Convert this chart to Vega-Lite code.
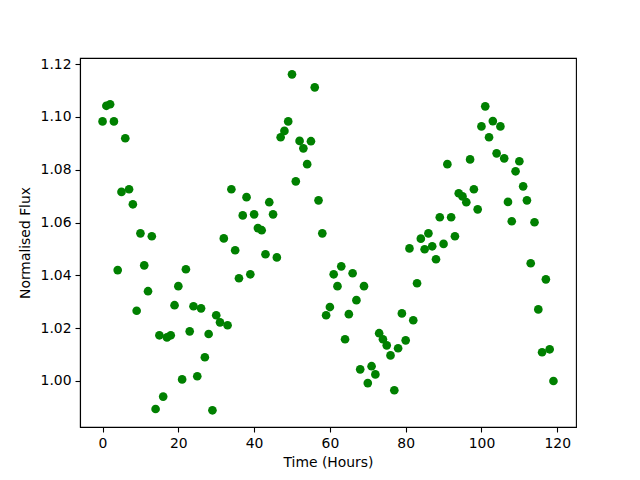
{
  "$schema": "https://vega.github.io/schema/vega-lite/v6.json",
  "width": 496,
  "height": 369,
  "autosize": {"type": "none"},
  "padding": {"left": 80, "top": 58, "right": 64, "bottom": 53},
  "background": "white",
  "config": {
    "view": {"stroke": "black", "strokeWidth": 1.1},
    "font": "DejaVu Sans",
    "axis": {
      "domainColor": "black",
      "domainWidth": 1.1,
      "tickColor": "black",
      "tickWidth": 1.1,
      "tickSize": 5,
      "labelPadding": 4,
      "labelFont": "DejaVu Sans",
      "labelFontSize": 13.9,
      "labelColor": "black",
      "titleFont": "DejaVu Sans",
      "titleFontSize": 13.9,
      "titleFontWeight": "normal",
      "titleColor": "black",
      "grid": false
    }
  },
  "data": {
    "values": [
      {"t": 0, "f": 1.0983}, {"t": 1, "f": 1.1042}, {"t": 2, "f": 1.1048}, {"t": 3, "f": 1.0983},
      {"t": 4, "f": 1.0420}, {"t": 5, "f": 1.0716}, {"t": 6, "f": 1.0919}, {"t": 7, "f": 1.0726},
      {"t": 8, "f": 1.0669}, {"t": 9, "f": 1.0266}, {"t": 10, "f": 1.0559}, {"t": 11, "f": 1.0438},
      {"t": 12, "f": 1.0340}, {"t": 13, "f": 1.0548}, {"t": 14, "f": 0.9894}, {"t": 15, "f": 1.0173},
      {"t": 16, "f": 0.9941}, {"t": 17, "f": 1.0165}, {"t": 18, "f": 1.0173}, {"t": 19, "f": 1.0287},
      {"t": 20, "f": 1.0359}, {"t": 21, "f": 1.0006}, {"t": 22, "f": 1.0423}, {"t": 23, "f": 1.0188},
      {"t": 24, "f": 1.0283}, {"t": 25, "f": 1.0018}, {"t": 26, "f": 1.0275}, {"t": 27, "f": 1.0090},
      {"t": 28, "f": 1.0178}, {"t": 29, "f": 0.9889}, {"t": 30, "f": 1.0249}, {"t": 31, "f": 1.0222},
      {"t": 32, "f": 1.0540}, {"t": 33, "f": 1.0211}, {"t": 34, "f": 1.0726}, {"t": 35, "f": 1.0495},
      {"t": 36, "f": 1.0389}, {"t": 37, "f": 1.0627}, {"t": 38, "f": 1.0696}, {"t": 39, "f": 1.0404},
      {"t": 40, "f": 1.0631}, {"t": 41, "f": 1.0579}, {"t": 42, "f": 1.0571}, {"t": 43, "f": 1.0480},
      {"t": 44, "f": 1.0677}, {"t": 45, "f": 1.0631}, {"t": 46, "f": 1.0468}, {"t": 47, "f": 1.0923},
      {"t": 48, "f": 1.0947}, {"t": 49, "f": 1.0983}, {"t": 50, "f": 1.1161}, {"t": 51, "f": 1.0756},
      {"t": 52, "f": 1.0909}, {"t": 53, "f": 1.0881}, {"t": 54, "f": 1.0821}, {"t": 55, "f": 1.0908},
      {"t": 56, "f": 1.1112}, {"t": 57, "f": 1.0684}, {"t": 58, "f": 1.0559}, {"t": 59, "f": 1.0249},
      {"t": 60, "f": 1.0280}, {"t": 61, "f": 1.0404}, {"t": 62, "f": 1.0359}, {"t": 63, "f": 1.0434},
      {"t": 64, "f": 1.0158}, {"t": 65, "f": 1.0253}, {"t": 66, "f": 1.0408}, {"t": 67, "f": 1.0306},
      {"t": 68, "f": 1.0044}, {"t": 69, "f": 1.0359}, {"t": 70, "f": 0.9992}, {"t": 71, "f": 1.0056},
      {"t": 72, "f": 1.0025}, {"t": 73, "f": 1.0181}, {"t": 74, "f": 1.0158}, {"t": 75, "f": 1.0135},
      {"t": 76, "f": 1.0097}, {"t": 77, "f": 0.9965}, {"t": 78, "f": 1.0124}, {"t": 79, "f": 1.0256},
      {"t": 80, "f": 1.0154}, {"t": 81, "f": 1.0502}, {"t": 82, "f": 1.0230}, {"t": 83, "f": 1.0370},
      {"t": 84, "f": 1.0539}, {"t": 85, "f": 1.0499}, {"t": 86, "f": 1.0559}, {"t": 87, "f": 1.0510},
      {"t": 88, "f": 1.0461}, {"t": 89, "f": 1.0620}, {"t": 90, "f": 1.0519}, {"t": 91, "f": 1.0821},
      {"t": 92, "f": 1.0620}, {"t": 93, "f": 1.0548}, {"t": 94, "f": 1.0711}, {"t": 95, "f": 1.0699},
      {"t": 96, "f": 1.0677}, {"t": 97, "f": 1.0839}, {"t": 98, "f": 1.0726}, {"t": 99, "f": 1.0650},
      {"t": 100, "f": 1.0964}, {"t": 101, "f": 1.1040}, {"t": 102, "f": 1.0923}, {"t": 103, "f": 1.0984},
      {"t": 104, "f": 1.0862}, {"t": 105, "f": 1.0964}, {"t": 106, "f": 1.0843}, {"t": 107, "f": 1.0678},
      {"t": 108, "f": 1.0605}, {"t": 109, "f": 1.0794}, {"t": 110, "f": 1.0832}, {"t": 111, "f": 1.0737},
      {"t": 112, "f": 1.0684}, {"t": 113, "f": 1.0446}, {"t": 114, "f": 1.0601}, {"t": 115, "f": 1.0271},
      {"t": 116, "f": 1.0109}, {"t": 117, "f": 1.0385}, {"t": 118, "f": 1.0120}, {"t": 119, "f": 1.0000}
    ]
  },
  "mark": {"type": "circle", "color": "#008000", "opacity": 1, "size": 75},
  "encoding": {
    "x": {
      "field": "t",
      "type": "quantitative",
      "title": "Time (Hours)",
      "scale": {"domain": [-5.95, 124.95], "nice": false, "zero": false},
      "axis": {"values": [0, 20, 40, 60, 80, 100, 120], "format": "d", "titlePadding": 6}
    },
    "y": {
      "field": "f",
      "type": "quantitative",
      "title": "Normalised Flux",
      "scale": {"domain": [0.98258, 1.1223], "nice": false, "zero": false},
      "axis": {"values": [1.0, 1.02, 1.04, 1.06, 1.08, 1.1, 1.12], "format": ".2f", "titlePadding": 8}
    }
  }
}
